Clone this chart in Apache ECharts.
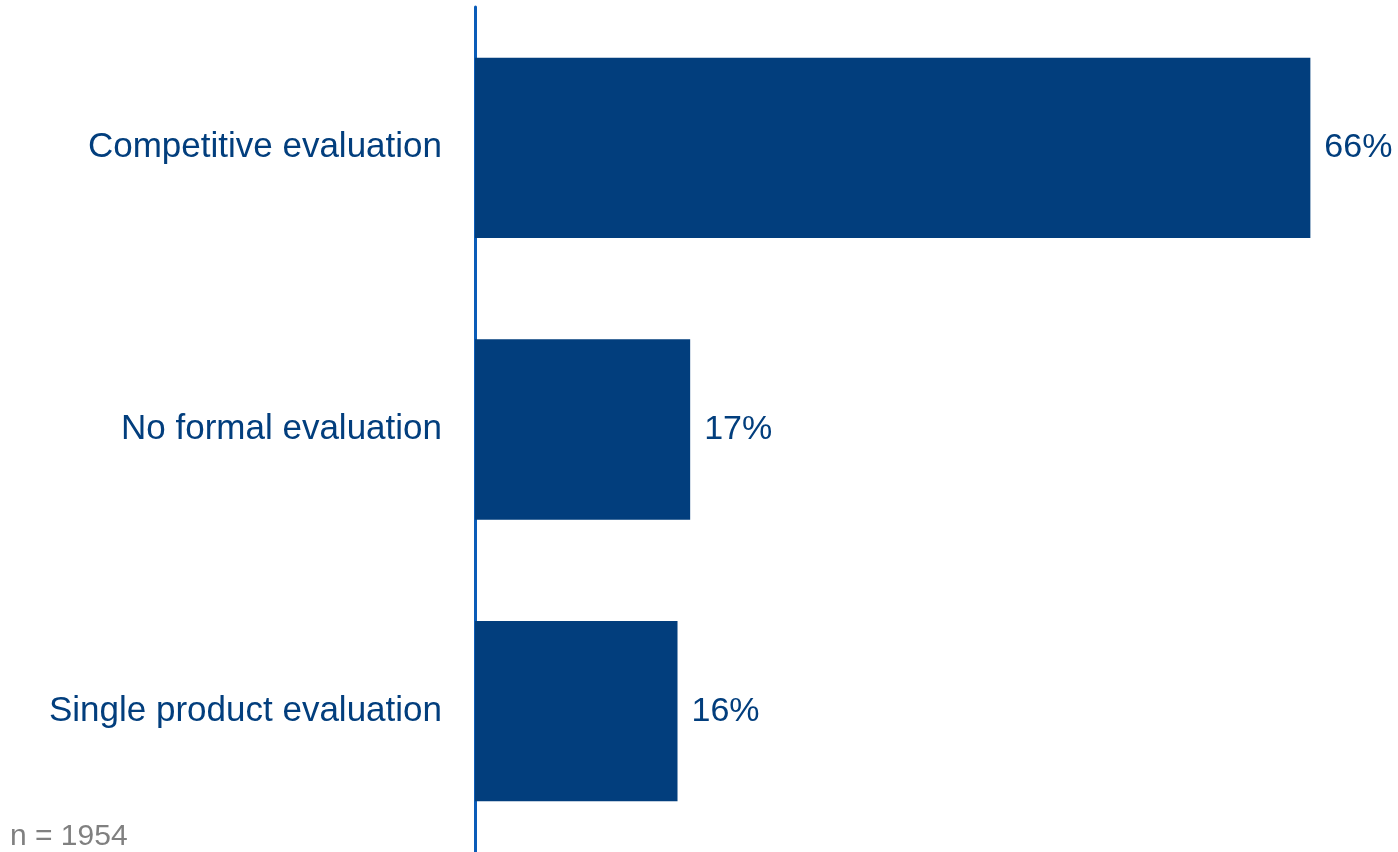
<!DOCTYPE html>
<html>
<head>
<meta charset="utf-8">
<script src="https://cdn.jsdelivr.net/npm/echarts@6/dist/echarts.min.js"></script>
<style>html,body{margin:0;padding:0;background:#fff}#c{width:1398px;height:852px}</style>
</head>
<body>
<div id="c"></div>
<script>
const categories = ["Competitive evaluation", "No formal evaluation", "Single product evaluation"];
const values = [66, 17, 16];
const note = "n = 1954";

const chart = echarts.init(document.getElementById('c'));
chart.setOption({
  animation: false,
  backgroundColor: '#ffffff',
  grid: { left: 475, top: 7, width: 886, height: 845, containLabel: false },
  xAxis: { type: 'value', min: 0, max: 70, show: false },
  yAxis: {
    type: 'category', data: categories, inverse: true,
    axisLine: { show: true, lineStyle: { color: '#0a5cb8', width: 3 } },
    axisTick: { show: false },
    axisLabel: { color: '#023e7d', fontSize: 35, fontFamily: 'Liberation Sans, Arial, sans-serif', margin: 33, padding: [6, 0, 0, 0] }
  },
  graphic: [{
    type: 'text', left: 10, top: 822,
    style: { text: note, fill: '#808080', font: '30px "Liberation Sans", Arial, sans-serif' }
  }],
  series: [{
    type: 'bar', data: values, barCategoryGap: '36%',
    itemStyle: { color: '#023e7d' },
    label: { show: true, position: 'right', distance: 14, formatter: '{c}%', color: '#023e7d', fontSize: 34, fontFamily: 'Liberation Sans, Arial, sans-serif', padding: [6, 0, 0, 0] }
  }]
});
</script>
</body>
</html>
